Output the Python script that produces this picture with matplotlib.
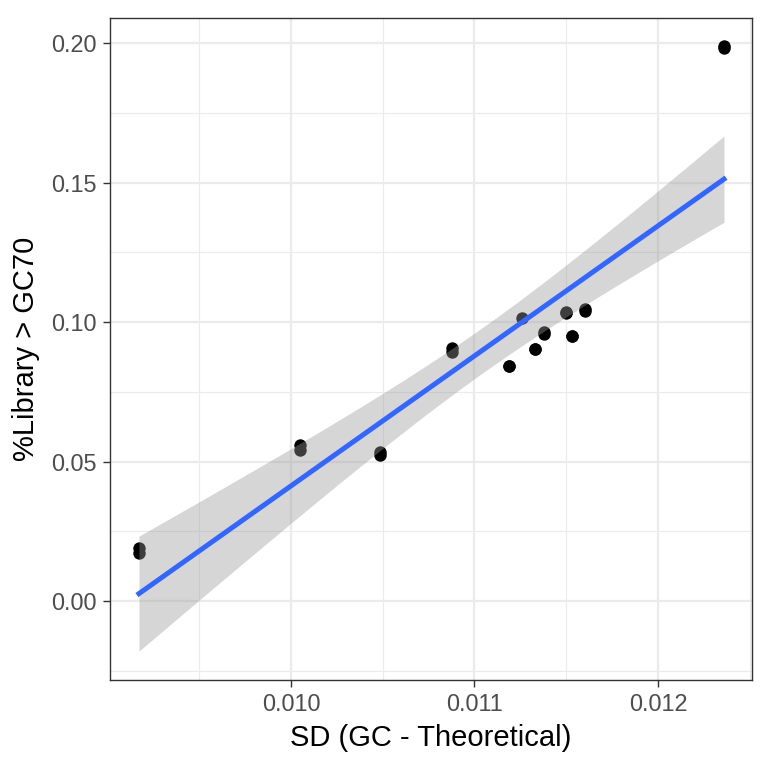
import numpy as np
import matplotlib
matplotlib.use("Agg")
import matplotlib.pyplot as plt
from matplotlib.ticker import MultipleLocator, FormatStrFormatter

plt.rcParams['font.family'] = ['Liberation Sans', 'DejaVu Sans']

# values (each sample appears twice)
sd_gc = [0.009172, 0.009172, 0.01005, 0.01005, 0.010485, 0.010485,
         0.01088, 0.01088, 0.01119, 0.01119, 0.01126, 0.01133, 0.01133,
         0.01138, 0.01138, 0.0115, 0.0115, 0.01153, 0.01153,
         0.0116, 0.0116, 0.01236, 0.01236]
pct_gc70 = [0.0190, 0.0172, 0.0559, 0.0541, 0.0534, 0.0523,
            0.0907, 0.0892, 0.0843, 0.0843, 0.1015, 0.0902, 0.0902,
            0.0963, 0.0958, 0.1035, 0.1031, 0.0951, 0.0951,
            0.1047, 0.1040, 0.1989, 0.1984]

x = np.array(sd_gc)
y = np.array(pct_gc70)

# linear fit with 95% confidence band (like geom_smooth(method="lm"))
n = len(x)
b1, b0 = np.polyfit(x, y, 1)
resid = y - (b0 + b1 * x)
s = np.sqrt(np.sum(resid ** 2) / (n - 2))
tval = 2.080  # t(0.975, df=21)
xs = np.linspace(x.min(), x.max(), 80)
fit = b0 + b1 * xs
se = s * np.sqrt(1 / n + (xs - x.mean()) ** 2 / np.sum((x - x.mean()) ** 2))

fig = plt.figure(figsize=(7.68, 7.68), dpi=100)
ax = fig.add_axes([0.1432, 0.1146, 0.8358, 0.862])

ax.scatter(x, y, s=80, color='black', zorder=3, linewidths=0)
ax.fill_between(xs, fit - tval * se, fit + tval * se, color='#999999',
                alpha=0.4, linewidth=0, zorder=4)
ax.plot(xs, fit, color='#3366FF', linewidth=3.6, zorder=5)

ax.set_xlim(0.009014, 0.012512)
ax.set_ylim(-0.0283, 0.209)
ax.xaxis.set_major_locator(MultipleLocator(0.001))
ax.xaxis.set_minor_locator(MultipleLocator(0.0005))
ax.yaxis.set_major_locator(MultipleLocator(0.05))
ax.yaxis.set_minor_locator(MultipleLocator(0.025))
ax.xaxis.set_major_formatter(FormatStrFormatter('%.3f'))
ax.yaxis.set_major_formatter(FormatStrFormatter('%.2f'))

ax.grid(which='major', color='#EBEBEB', linewidth=1.6, zorder=0)
ax.grid(which='minor', color='#EBEBEB', linewidth=0.8, zorder=0)
ax.set_axisbelow(True)
for sp in ax.spines.values():
    sp.set_color('#333333')
    sp.set_linewidth(1.0)

ax.tick_params(which='major', length=5.3, width=1.0, color='#333333',
               labelsize=16.9, labelcolor='#4D4D4D', pad=4)
ax.tick_params(which='minor', length=0)

ax.set_xlabel('SD (GC - Theoretical)', fontsize=21, labelpad=6)
ax.set_ylabel('%Library > GC70', fontsize=21, labelpad=8)

fig.savefig('out.png', dpi=100)
